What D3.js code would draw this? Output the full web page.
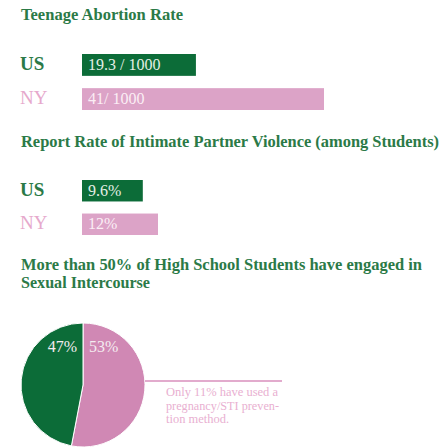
<!DOCTYPE html>
<html lang="en">
<head>
    <meta charset="UTF-8">
    <title>Teen health</title>
    <script src="https://cdn.jsdelivr.net/npm/d3@7"></script>
    <style>
        body { margin: 0; background: #fff; }
        text { font-family: "Liberation Serif", "DejaVu Serif", serif; }
    </style>
</head>
<body>
<script>
    // data
    var abortionCats = ["US", "NY"];
    var abortionValues = [19.3, 41];
    var abortionLabels = ["19.3 / 1000", "41/ 1000"];

    var violenceCats = ["US", "NY"];
    var violenceValues = [9.6, 12];
    var violenceLabels = ["9.6%", "12%"];

    var pieCats = ["Engaged", "Not engaged"];
    var pieValues = [53, 47];
    var pieLabels = ["53%", "47%"];

    var noteLines = ["Only 11% have used a", "pregnancy/STI preven-", "tion method."];
    var noteWidths = [112, 113, 63];

    var width = 447, height = 448;
    var green = "#0c6c38", titleGreen = "#2b7a47";
    var barPink = "#dca3c7", piePink = "#d088b4", labelPink = "#e6a9cc";
    var catColor = {"US": titleGreen, "NY": labelPink};
    var barColor = {"US": green, "NY": barPink};

    var svg = d3.select("body").append("svg")
        .attr("width", width)
        .attr("height", height);

    function title(txt, y, len) {
        svg.append("text")
            .attr("x", 21).attr("y", y)
            .attr("fill", titleGreen)
            .attr("font-size", "16px")
            .attr("font-weight", "bold")
            .attr("textLength", len)
            .attr("lengthAdjust", "spacingAndGlyphs")
            .text(txt);
    }

    // one little bar block: cats on a band scale, values on a linear scale
    function barBlock(cats, values, labels, x, y) {
        var g = svg.append("g");
        cats.forEach(function(c, i) {
            g.append("text")
                .attr("x", 20)
                .attr("y", y(c) + y.bandwidth() / 2 + 5)
                .attr("fill", catColor[c])
                .attr("font-size", "19px")
                .attr("font-weight", c == "US" ? "bold" : "normal")
                .text(c);
        });
        g.selectAll("rect")
            .data(values)
            .enter()
            .append("rect")
            .attr("x", x(0))
            .attr("y", (d, i) => y(cats[i]))
            .attr("width", d => x(d) - x(0))
            .attr("height", y.bandwidth())
            .attr("fill", (d, i) => barColor[cats[i]]);
        g.selectAll(".val")
            .data(labels)
            .enter()
            .append("text")
            .attr("class", "val")
            .attr("x", x(0) + 6)
            .attr("y", (d, i) => y(cats[i]) + y.bandwidth() / 2 + 5)
            .attr("fill", (d, i) => cats[i] == "US" ? "#e4efe6" : "#fbeef5")
            .attr("font-size", "16px")
            .text(d => d);
    }

    title("Teenage Abortion Rate", 20, 162);
    var x1 = d3.scaleLinear().domain([0, 41]).range([82, 324]);
    var y1 = d3.scaleBand().domain(abortionCats).range([54, 110]).paddingInner(0.36);
    barBlock(abortionCats, abortionValues, abortionLabels, x1, y1);

    title("Report Rate of Intimate Partner Violence (among Students)", 147, 418);
    var x2 = d3.scaleLinear().domain([0, 12]).range([82, 158]);
    var y2 = d3.scaleBand().domain(violenceCats).range([180, 235]).paddingInner(0.36);
    barBlock(violenceCats, violenceValues, violenceLabels, x2, y2);

    title("More than 50% of High School Students have engaged in", 270, 401);
    title("Sexual Intercourse", 288, 129);

    // pie
    var cx = 83, cy = 385, r = 62;
    var pie = d3.pie().sort(null).value(d => d);
    var arcs = pie(pieValues);
    var arc = d3.arc().innerRadius(0).outerRadius(r);
    var pieColor = [piePink, green];
    var pg = svg.append("g").attr("transform", `translate(${cx},${cy})`);
    pg.selectAll("path")
        .data(arcs)
        .enter()
        .append("path")
        .attr("d", arc)
        .attr("fill", (d, i) => pieColor[i])
        .attr("stroke", "#fff")
        .attr("stroke-width", 1);
    // labels sit either side of the top divider
    pg.selectAll(".plab")
        .data(arcs)
        .enter()
        .append("text")
        .attr("class", "plab")
        .attr("x", (d, i) => i == 0 ? 6 : -6)
        .attr("y", -r * 0.53)
        .attr("text-anchor", (d, i) => i == 0 ? "start" : "end")
        .attr("fill", "#f4ecf0")
        .attr("font-size", "16px")
        .text((d, i) => pieLabels[i]);

    // leader + note
    svg.append("line")
        .attr("x1", cx + r).attr("x2", 282)
        .attr("y1", 381).attr("y2", 381)
        .attr("stroke", "#d98fbd")
        .attr("stroke-width", 1.5);
    svg.append("g").selectAll("text")
        .data(noteLines)
        .enter()
        .append("text")
        .attr("x", 166)
        .attr("y", (d, i) => 396 + i * 13.5)
        .attr("fill", "#e9b0d1")
        .attr("font-size", "13.5px")
        .attr("textLength", (d, i) => noteWidths[i])
        .attr("lengthAdjust", "spacingAndGlyphs")
        .text(d => d);
</script>
</body>
</html>
